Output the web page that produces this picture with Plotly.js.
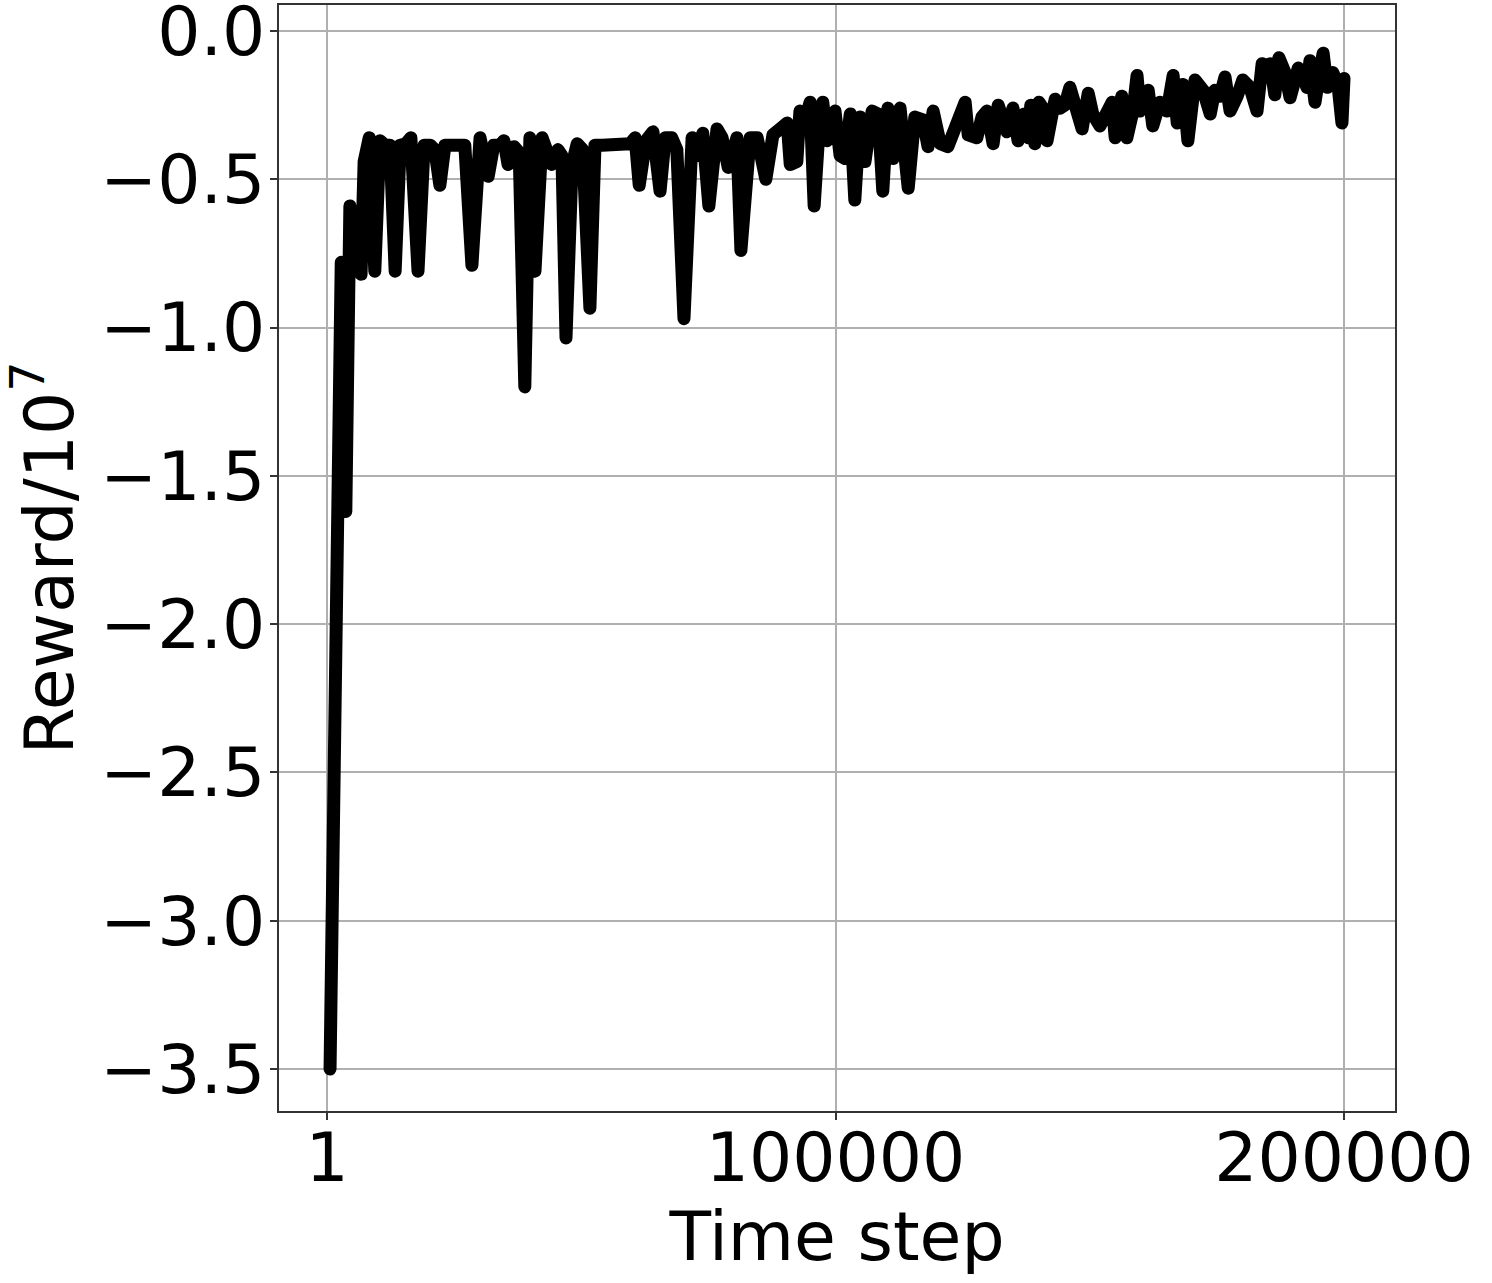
<!DOCTYPE html>
<html>
<head>
<meta charset="utf-8">
<script src="https://cdn.plot.ly/plotly-3.0.1.min.js"></script>
<style>
html,body{margin:0;padding:0;background:#fff;}
#chart{width:1492px;height:1283px;}
#chart path.js-line{stroke-linejoin:round !important;stroke-linecap:round !important;}
</style>
</head>
<body>
<div id="chart"></div>
<script>
// Time steps of the logged rewards
const timeSteps = [
  600, 1600, 2800, 3700, 4500, 5700, 6700, 7300, 8300, 9400,
  10400, 11400, 12400, 13400, 14400, 15500, 16500, 17900, 19100, 20300,
  21200, 22200, 23200, 24600, 25800, 27100, 28500, 30100, 31700, 32800,
  34000, 34800, 35600, 36800, 37800, 38900, 39900, 40900, 42300, 43300,
  44200, 45400, 46200, 47000, 48200, 49200, 50300, 51700, 52700, 54100,
  55700, 57200, 58400, 59600, 60600, 61400, 62700, 64100, 65500, 66500,
  67800, 68800, 70200, 71800, 72800, 73900, 75100, 76700, 77700, 78900,
  80600, 81400, 83200, 84600, 86300, 87700, 89100, 90500, 91100, 92400,
  93000, 94000, 95000, 95800, 97000, 97500, 98300, 99900, 100900, 101900,
  102900, 103800, 104800, 105800, 107200, 108400, 109300, 110300, 111300, 112700,
  114300, 115600, 117200, 118200, 119200, 120600, 122100, 124100, 125500, 126100,
  127800, 128800, 129800, 131000, 132000, 133700, 134900, 135900, 137100, 137900,
  138400, 139200, 140000, 140800, 141600, 142600, 143200, 144200, 145100, 146100,
  147100, 148500, 149700, 150600, 152000, 153200, 154400, 155000, 156300, 157300,
  158500, 159300, 159900, 160900, 161500, 162400, 163800, 165200, 166400, 167200,
  168300, 169300, 170700, 172300, 173700, 174600, 175600, 176600, 177600, 179000,
  180100, 181500, 182900, 183900, 184900, 185500, 186400, 187200, 188400, 189400,
  191000, 191900, 192700, 193300, 194300, 195300, 195900, 196700, 197800, 198800,
  199600, 200000
];

// Reward values (in units of 10^7)
const rewards = [
  -3.50, -1.91, -0.78, -1.62, -0.59, -0.72, -0.82, -0.44, -0.36, -0.81,
  -0.37, -0.385, -0.385, -0.81, -0.385, -0.38, -0.36, -0.81, -0.385, -0.385,
  -0.40, -0.52, -0.385, -0.385, -0.385, -0.385, -0.79, -0.36, -0.49, -0.385,
  -0.385, -0.37, -0.45, -0.39, -0.41, -1.20, -0.36, -0.81, -0.36, -0.40,
  -0.45, -0.40, -0.42, -1.035, -0.45, -0.38, -0.40, -0.935, -0.385, -0.385,
  -0.385, -0.385, -0.38, -0.38, -0.36, -0.52, -0.37, -0.34, -0.54, -0.36,
  -0.36, -0.40, -0.97, -0.36, -0.42, -0.345, -0.59, -0.33, -0.36, -0.46,
  -0.36, -0.74, -0.36, -0.36, -0.50, -0.35, -0.33, -0.31, -0.45, -0.44,
  -0.27, -0.30, -0.24, -0.59, -0.27, -0.24, -0.37, -0.27, -0.42, -0.43,
  -0.28, -0.57, -0.29, -0.44, -0.27, -0.28, -0.54, -0.26, -0.43, -0.26,
  -0.53, -0.29, -0.30, -0.39, -0.27, -0.38, -0.39, -0.30, -0.24, -0.35,
  -0.36, -0.29, -0.27, -0.38, -0.25, -0.34, -0.26, -0.37, -0.28, -0.36,
  -0.25, -0.38, -0.24, -0.26, -0.37, -0.28, -0.23, -0.26, -0.25, -0.19,
  -0.26, -0.33, -0.21, -0.28, -0.32, -0.27, -0.24, -0.36, -0.22, -0.36,
  -0.27, -0.15, -0.27, -0.24, -0.20, -0.32, -0.24, -0.27, -0.15, -0.31,
  -0.18, -0.37, -0.165, -0.20, -0.28, -0.20, -0.22, -0.155, -0.27, -0.22,
  -0.165, -0.19, -0.27, -0.11, -0.12, -0.11, -0.215, -0.09, -0.14, -0.225,
  -0.125, -0.15, -0.19, -0.10, -0.24, -0.13, -0.075, -0.19, -0.14, -0.18,
  -0.31, -0.16
];

const xTickVals = [1, 100000, 200000];
const xTickText = ["1", "100000", "200000"];
const yTickVals = [0.0, -0.5, -1.0, -1.5, -2.0, -2.5, -3.0, -3.5];
const yTickText = ["0.0", "\u22120.5", "\u22121.0", "\u22121.5", "\u22122.0", "\u22122.5", "\u22123.0", "\u22123.5"];

const font = "DejaVu Sans, sans-serif";

const trace = {
  x: timeSteps,
  y: rewards,
  type: "scatter",
  mode: "lines",
  line: {color: "#000000", width: 13, shape: "linear"},
  hoverinfo: "skip"
};

const axisCommon = {
  showline: true,
  mirror: true,
  linecolor: "#333333",
  linewidth: 2,
  showgrid: true,
  gridcolor: "#b0b0b0",
  gridwidth: 2,
  zeroline: false,
  ticks: "outside",
  ticklen: 7,
  tickwidth: 2,
  tickcolor: "#333333",
  tickfont: {family: font, size: 68, color: "#000"},
  ticklabeloverflow: "allow",
  tickmode: "array"
};

const layout = {
  width: 1492,
  height: 1283,
  paper_bgcolor: "#ffffff",
  plot_bgcolor: "#ffffff",
  margin: {l: 279, r: 97, t: 5, b: 172},
  showlegend: false,
  font: {family: font, color: "#000"},
  xaxis: Object.assign({}, axisCommon, {
    range: [-9440, 210030],
    tickvals: xTickVals,
    ticktext: xTickText,
    ticklabelstandoff: -21,
    title: {text: "Time step", font: {family: font, size: 68, color: "#000"}, standoff: 13}
  }),
  yaxis: Object.assign({}, axisCommon, {
    range: [-3.6416, 0.0877],
    tickvals: yTickVals,
    ticktext: yTickText,
    ticklabelstandoff: -9,
    title: {text: "Reward/10<sup>7</sup>", font: {family: font, size: 68, color: "#000"}, standoff: 37}
  })
};

Plotly.newPlot("chart", [trace], layout, {staticPlot: true, displayModeBar: false});
</script>
</body>
</html>
